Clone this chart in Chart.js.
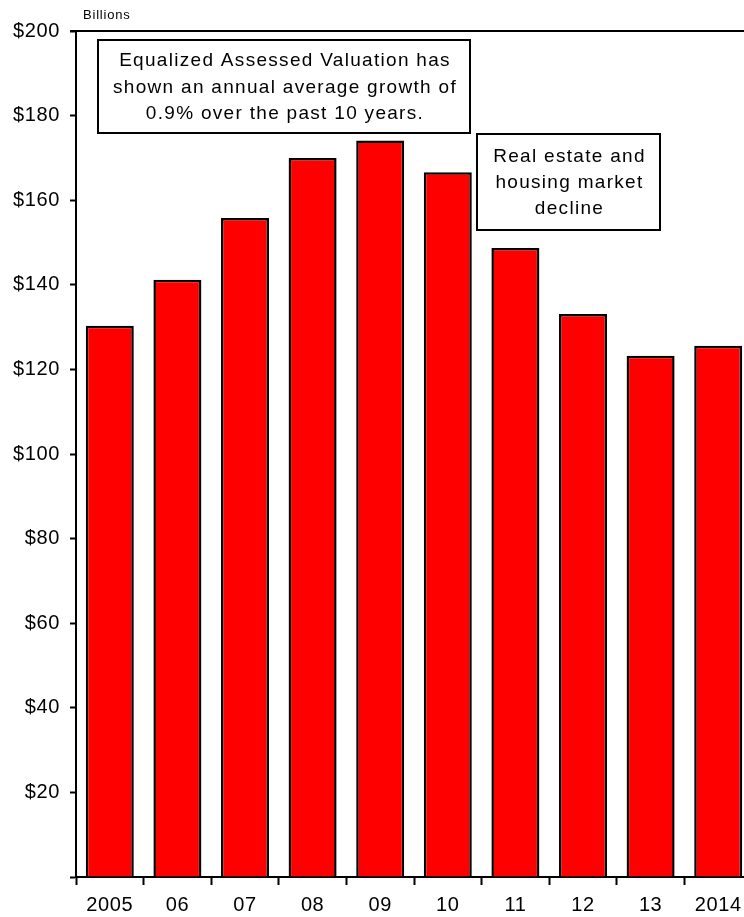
<!DOCTYPE html>
<html>
<head>
<meta charset="utf-8">
<script src="https://cdn.jsdelivr.net/npm/chart.js@4/dist/chart.umd.min.js"></script>
<style>
  html, body { margin: 0; padding: 0; background: #fff; overflow: hidden; }
  #wrap { width: 752px; height: 917px; position: relative; }
</style>
</head>
<body>
<div id="wrap"><canvas id="c" width="752" height="917"></canvas></div>
<script>
// Equalized Assessed Valuation, billions of dollars
const years = ['2005', '06', '07', '08', '09', '10', '11', '12', '13', '2014'];
const valuation = [130.3, 141.2, 155.8, 170.0, 174.1, 166.6, 148.7, 133.1, 123.2, 125.6];
const yTicks = [0, 20, 40, 60, 80, 100, 120, 140, 160, 180, 200];

const noteGrowth = ['Equalized Assessed Valuation has', 'shown an annual average growth of', '0.9% over the past 10 years.'];
const noteDecline = ['Real estate and', 'housing market', 'decline'];

const FONT = '"Liberation Sans", Arial, sans-serif';
const TICK_SPACING = '0.6px';
const NOTE_SPACING = '1.3px';

// Slightly open letter spacing for the axis labels
const spacing = {
  id: 'spacing',
  beforeInit(chart) { chart.ctx.letterSpacing = TICK_SPACING; },
  beforeDraw(chart) { chart.ctx.letterSpacing = TICK_SPACING; }
};

// Text boxes, frame line along the top and the "Billions" unit label
const callouts = {
  id: 'callouts',
  afterDraw(chart) {
    const ctx = chart.ctx;
    const a = chart.chartArea;
    ctx.save();
    // top frame line
    ctx.strokeStyle = '#000';
    ctx.lineWidth = 2;
    ctx.beginPath();
    ctx.moveTo(a.left - 6, a.top);
    ctx.lineTo(a.right, a.top);
    ctx.stroke();

    ctx.fillStyle = '#000';
    ctx.font = '13px ' + FONT;
    ctx.letterSpacing = '0.8px';
    ctx.textAlign = 'left';
    ctx.textBaseline = 'alphabetic';
    ctx.fillText('Billions', a.left + 7, a.top - 12);

    ctx.letterSpacing = NOTE_SPACING;
    function box(x, y, w, h, lines, lh) {
      ctx.fillStyle = '#fff';
      ctx.fillRect(x, y, w, h);
      ctx.strokeStyle = '#000';
      ctx.lineWidth = 2;
      ctx.strokeRect(x, y, w, h);
      ctx.fillStyle = '#000';
      ctx.font = '19px ' + FONT;
      ctx.textAlign = 'center';
      ctx.textBaseline = 'middle';
      const cx = x + w / 2 + 1;
      const first = y + h / 2 - lh * (lines.length - 1) / 2 + 1;
      lines.forEach((t, i) => ctx.fillText(t, cx, first + i * lh));
    }
    box(a.left + 22, a.top + 9, 372, 93, noteGrowth, 26.5);
    box(a.left + 401, a.top + 103, 183, 96, noteDecline, 26);
    ctx.restore();
  }
};

new Chart(document.getElementById('c'), {
  type: 'bar',
  data: {
    labels: years,
    datasets: [{
      data: valuation,
      backgroundColor: '#ff0000',
      borderColor: '#000000',
      borderWidth: 2.5,
      borderSkipped: 'start',
      barPercentage: 0.71,
      categoryPercentage: 1.0
    }]
  },
  options: {
    responsive: false,
    animation: false,
    layout: { padding: { top: 31, left: 0, right: 0, bottom: 0 } },
    plugins: {
      legend: { display: false },
      tooltip: { enabled: false }
    },
    scales: {
      x: {
        offset: true,
        grid: {
          display: true,
          drawOnChartArea: false,
          drawTicks: true,
          tickLength: 8,
          tickWidth: 2,
          color: '#000',
          offset: true
        },
        border: { display: true, color: '#000', width: 2 },
        ticks: {
          color: '#000',
          font: { family: FONT, size: 20 },
          padding: 8,
          maxRotation: 0,
          autoSkip: false
        },
        afterFit(s) { s.height = 40; }
      },
      y: {
        min: 0,
        max: 200,
        afterBuildTicks(s) { s.ticks = yTicks.map(v => ({ value: v })); },
        grid: {
          display: true,
          drawOnChartArea: false,
          drawTicks: true,
          tickLength: 6,
          tickWidth: 2,
          color: '#000'
        },
        border: { display: true, color: '#000', width: 2 },
        ticks: {
          color: '#000',
          font: { family: FONT, size: 20 },
          padding: 10,
          callback: v => (v === 0 ? '' : '$' + v)
        },
        afterFit(s) { s.width = 76; }
      }
    }
  },
  plugins: [spacing, callouts]
});
</script>
</body>
</html>
